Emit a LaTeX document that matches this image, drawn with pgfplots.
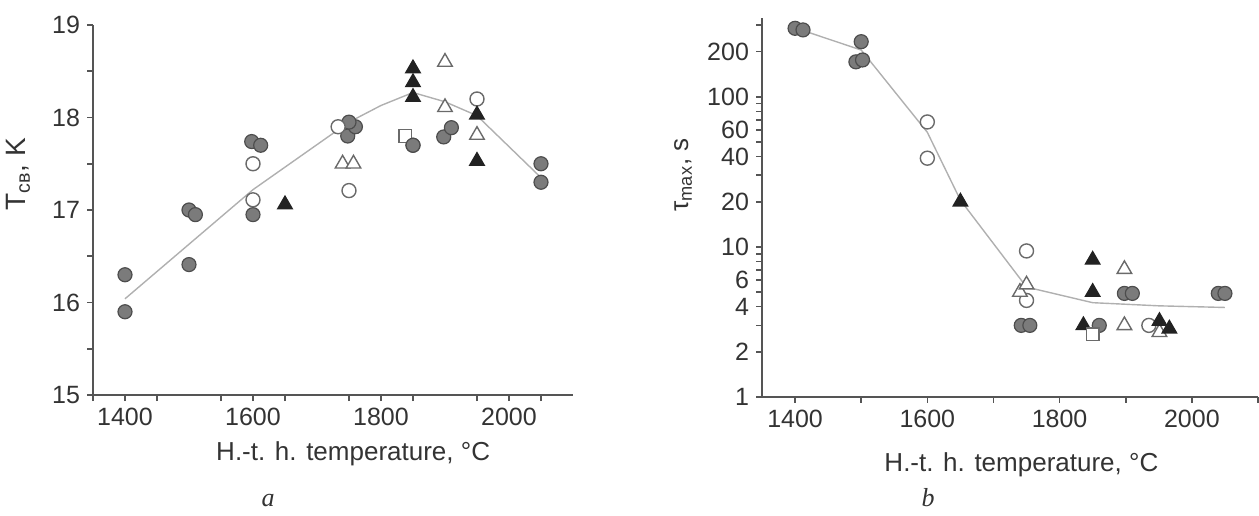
\documentclass[border=0pt]{standalone}
\usepackage{fontspec}
\setmainfont{Liberation Sans}
\newfontfamily\serifit{Liberation Serif}
\usepackage{pgfplots}
\pgfplotsset{compat=1.18}

\definecolor{axgray}{HTML}{555555}
\definecolor{txtgray}{HTML}{333333}
\definecolor{circfill}{HTML}{7B7B7B}
\definecolor{circedge}{HTML}{4D4D4D}
\definecolor{trifill}{HTML}{222222}
\definecolor{openedge}{HTML}{6A6A6A}
\definecolor{fitline}{HTML}{B0B0B0}

\pgfplotsset{
  panel/.style={
    scale only axis, axis lines*=left, clip=false,
    tick align=outside,
    axis line style={axgray, line width=0.8pt},
    tick style={axgray, line width=0.8pt},
    major tick length=3pt, minor tick length=3pt,
    tick label style={font=\fontsize{12.5}{14}\selectfont, text=txtgray},
    label style={font=\fontsize{13}{15}\selectfont, text=txtgray},
    /pgf/number format/assume math mode=true,
    /pgf/number format/1000 sep={},
    xmin=1350, xmax=2100,
    xtick={1400,1600,...,2000},
  },
  gcirc/.style={only marks, mark=*, mark size=3.5pt,
    mark options={draw=circedge, fill=circfill, line width=0.6pt}},
  ocirc/.style={only marks, mark=*, mark size=3.5pt,
    mark options={draw=openedge, fill=white, line width=0.7pt}},
  otri/.style={only marks, mark=triangle*, mark size=4.2pt,
    mark options={draw=openedge, fill=white, line width=0.7pt}},
  btri/.style={only marks, mark=triangle*, mark size=4.2pt,
    mark options={draw=trifill, fill=trifill, line width=0.6pt}},
  osq/.style={only marks, mark=square*, mark size=3.2pt,
    mark options={draw=openedge, fill=white, line width=0.7pt}},
  fit/.style={no marks, fitline, line width=0.7pt},
}

\begin{document}
\begin{tikzpicture}
\useasboundingbox (0,0) rectangle (629.5pt,257.5pt);

% panel a
\begin{axis}[panel,
  at={(46.5pt,60pt)}, anchor=south west,
  width=240pt, height=185pt,
  ymin=15, ymax=19,
  ytick={15,16,17,18,19},
  minor xtick={1350,1450,...,2100},
  minor ytick={15.5,16.5,17.5,18.5},
  xlabel={H.-t. h. temperature, °C},
  xlabel style={at={(axis description cs:0.542,-0.158)}, anchor=center},
  ylabel={T\textsubscript{св}, K},
  ylabel style={at={(axis description cs:-0.156,0.597)}, anchor=center,
    font=\fontsize{14}{16}\selectfont},
]
\addplot[fit] coordinates {
  (1400,16.04) (1500,16.63) (1600,17.22) (1750,17.95) (1800,18.13)
  (1850,18.27) (1900,18.17) (1950,18.02) (2050,17.35)
};
\addplot[gcirc] coordinates {
  (1400,16.30) (1400,15.90) (1500,16.41) (1500,17.00) (1510,16.95)
  (1598,17.74) (1612,17.70) (1600,16.95) (1748,17.80) (1760,17.90)
  (1750,17.95) (1850,17.70) (1898,17.79) (1910,17.89) (2050,17.50)
  (2050,17.30)
};
\addplot[ocirc] coordinates {
  (1600,17.50) (1600,17.11) (1733,17.90) (1750,17.21) (1950,18.20)
};
\addplot[otri] coordinates {
  (1740,17.50) (1757,17.50) (1900,18.60) (1900,18.11) (1950,17.81)
};
\addplot[btri] coordinates {
  (1650,17.06) (1850,18.53) (1850,18.38) (1850,18.22) (1950,18.03)
  (1950,17.53)
};
\addplot[osq] coordinates {(1838,17.80)};
\addplot[gcirc] coordinates {(1850,17.70)};
\node[font=\serifit\itshape\fontsize{13}{15}\selectfont, text=txtgray]
  at (axis description cs:0.365,-0.285) {a};
\end{axis}

% panel b
\begin{axis}[panel,
  at={(381pt,59pt)}, anchor=south west,
  width=248pt, height=189.5pt,
  ymode=log, ymin=1, ymax=335,
  ytick={1,2,4,6,10,20,40,60,100,200},
  yticklabels={1,2,4,6,10,20,40,60,100,200},
  minor ytick={3,5,7,8,9,30,50,70,80,90,300},
  minor xtick={1500,1700,1900,2100},
  xlabel={H.-t. h. temperature, °C},
  xlabel style={at={(axis description cs:0.523,-0.178)}, anchor=center},
  ylabel={τ\textsubscript{max}, s},
  ylabel style={at={(axis description cs:-0.159,0.586)}, anchor=center},
]
\addplot[fit] coordinates {
  (1406,282) (1500,205) (1600,58) (1650,20.5) (1750,5.4)
  (1850,4.25) (1950,4.05) (2050,3.95)
};
\addplot[gcirc] coordinates {
  (1400,286) (1412,279) (1500,233) (1492,171) (1502,176)
  (1742,3.0) (1755,3.0) (1860,3.0) (1898,4.9) (1910,4.9)
  (2040,4.9) (2050,4.9)
};
\addplot[ocirc] coordinates {
  (1600,68) (1600,39) (1750,9.4) (1750,4.4) (1935,3.0)
};
\addplot[otri] coordinates {
  (1740,5.0) (1750,5.6) (1898,7.1) (1898,3.0) (1951,2.7)
};
\addplot[btri] coordinates {
  (1650,20) (1850,8.2) (1850,5.0) (1836,3.0) (1951,3.2) (1966,2.85)
};
\addplot[osq] coordinates {(1850,2.62)};
\node[font=\serifit\itshape\fontsize{13}{15}\selectfont, text=txtgray]
  at (axis description cs:0.335,-0.265) {b};
\end{axis}
\end{tikzpicture}
\end{document}
